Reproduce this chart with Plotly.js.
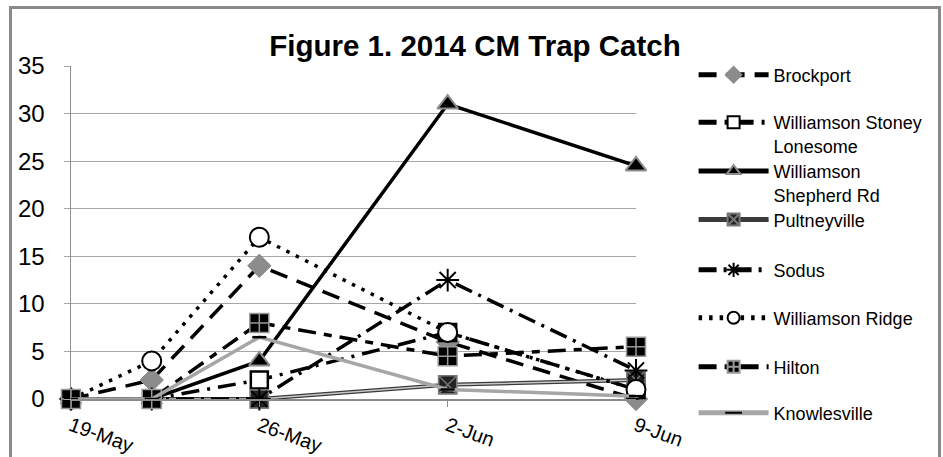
<!DOCTYPE html>
<html>
<head>
<meta charset="utf-8">
<script src="https://cdn.plot.ly/plotly-3.0.1.min.js"></script>
<style>
html,body{margin:0;padding:0;overflow:hidden;background:#fff;}
#frame{position:absolute;left:9px;top:6px;width:932px;height:470px;box-sizing:border-box;border:3px solid #8a8a8a;background:#fff;}
#chart{position:absolute;left:0;top:0;}
</style>
</head>
<body>
<div id="frame"><div id="chart"></div></div>
<script>
// ---- data ----
const dates = ['2014-05-19','2014-05-22','2014-05-26','2014-06-02','2014-06-09'];
const tickDates = ['2014-05-19','2014-05-26','2014-06-02','2014-06-09'];
const tickLabels = ['19-May','26-May','2-Jun','9-Jun'];
const yTicks = [0,5,10,15,20,25,30,35];

const brockport      = [0, 2, 14, 6, 0];
const stoneyLonesome = [0, 0, 2, 7, 1];
const shepherdRd     = [0, 0, 4, 31, 24.5];
const pultneyville   = [0, 0, 0, 1.5, 2];
const sodus          = [0, 0, 0, 12.5, 3];
const ridge          = [0, 4, 17, 7, 1];
const hilton         = [0, 0, 8, 4.5, 5.5];
const knowlesville   = [0, 0, 6.5, 1, 0.3];

const names = ['Brockport','Williamson Stoney<br>Lonesome','Williamson<br>Shepherd Rd','Pultneyville','Sodus','Williamson Ridge','Hilton','Knowlesville'];

const legendIds = ['legend','legend2','legend3','legend4','legend5','legend6','legend7','legend8'];

function tr(i, y, line, marker, extra){
  return Object.assign({x: dates, y: y, name: names[i], type:'scatter', mode:'lines+markers',
    line: line, marker: marker, cliponaxis:false, legend: legendIds[i], hoverinfo:'skip'}, extra||{});
}

const traces = [
  tr(0, brockport, {color:'#000', width:3.5, dash:'18px,10px'},
     {symbol:'diamond', size:18, color:'#8c8c8c', line:{color:'#8c8c8c', width:1}}),
  tr(1, stoneyLonesome, {color:'#000', width:3.5, dash:'18px,8px,3px,8px'},
     {symbol:'square', size:17, color:'#fff', line:{color:'#000', width:2.5}}),
  tr(2, shepherdRd, {color:'#000', width:3.5},
     {symbol:'triangle-up', size:18, color:'#000', line:{color:'#8c8c8c', width:2}}),
  tr(3, pultneyville, {color:'#3a3a3a', width:4},
     {symbol:'square-x', size:18, color:'#222', line:{color:'#777', width:1.5}}),
  tr(3, pultneyville, {color:'#c8c8c8', width:1.5},
     {symbol:'square-x', size:18, color:'#222', line:{color:'#777', width:1.5}}, {showlegend:false}),
  tr(4, sodus, {color:'#000', width:3.5, dash:'18px,7px,3px,7px'},
     {symbol:'asterisk-open', size:19, color:'#000', line:{color:'#000', width:2}}),
  tr(5, ridge, {color:'#000', width:3.5, dash:'3.5px,7px'},
     {symbol:'circle', size:19, color:'#fff', line:{color:'#000', width:2}}),
  tr(6, hilton, {color:'#000', width:3.5, dash:'18px,8px,8px,8px'},
     {symbol:'square-cross', size:19, color:'#000', line:{color:'#999', width:1.5}}),
  tr(7, knowlesville, {color:'#a6a6a6', width:3.5},
     {symbol:'line-ew', size:10, color:'#000', line:{color:'#000', width:2.5}})
];

const layout = {
  width: 926, height: 448,
  margin: {l:59, r:301, t:57, b:58},
  paper_bgcolor:'#fff', plot_bgcolor:'#fff',
  font: {family:'Liberation Sans, Arial, sans-serif', color:'#000'},
  title: {text:'<b>Figure 1. 2014 CM Trap Catch</b>', font:{size:29.5, color:'#000'},
          xref:'container', x:0.5, xanchor:'center', yref:'container', y:0.918, yanchor:'middle'},
  showlegend: true,
  xaxis: {type:'date', range:['2014-05-19','2014-06-09'], tickvals: tickDates, ticktext: tickLabels,
          tickangle: 20, tickfont:{size:20, color:'#000'}, showgrid:false, zeroline:false,
          showline:true, linecolor:'#8c8c8c', linewidth:1.5, ticks:'outside', ticklen:6, tickcolor:'#8c8c8c'},
  yaxis: {range:[0,35], tickvals: yTicks, tickfont:{size:24, color:'#000'}, showgrid:true, gridcolor:'#a6a6a6',
          gridwidth:1, zeroline:false, showline:true, linecolor:'#8c8c8c', linewidth:1.5,
          ticks:'outside', ticklen:6, tickcolor:'#a6a6a6', ticklabelstandoff: 14}
};

// each legend entry placed at its own vertical position (paper coords)
const legendY = [0.973, 0.796, 0.649, 0.538, 0.387, 0.243, 0.096, -0.042];
legendIds.forEach(function(id, i){
  layout[id] = {x:1.1, xanchor:'left', y: legendY[i], yanchor:'middle', valign:'top',
                font:{size:18, color:'#000'}, bgcolor:'rgba(0,0,0,0)', itemwidth:70,
                itemsizing:'constant'};
});

Plotly.newPlot('chart', traces, layout, {staticPlot:true, displayModeBar:false});
</script>
</body>
</html>
